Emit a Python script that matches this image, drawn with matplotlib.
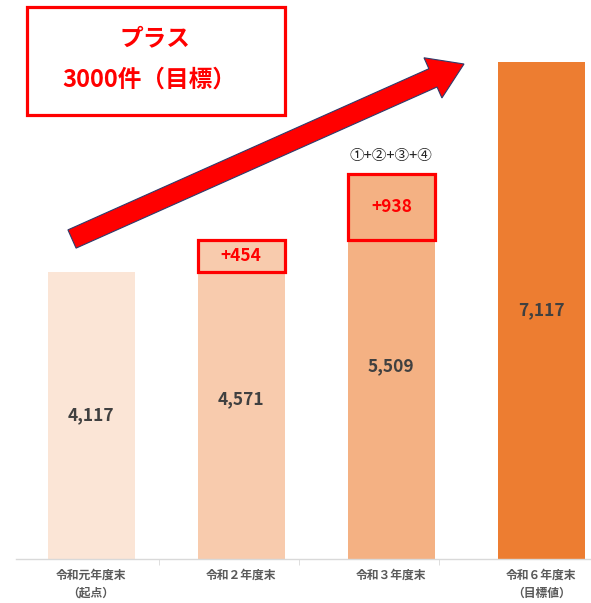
import matplotlib
matplotlib.use('Agg')
import matplotlib.pyplot as plt
from matplotlib.patches import Rectangle, FancyArrow
from matplotlib.transforms import IdentityTransform

plt.rcParams['font.family'] = ['Noto Sans CJK JP', 'DejaVu Sans']

# 件数の推移（年度末）
categories = ['令和元年度末\n（起点）', '令和２年度末', '令和３年度末', '令和６年度末\n（目標値）']
totals = [4117, 4571, 5509, 7117]
increments = [None, 454, 938, None]
bar_colors = ['#FBE5D6', '#F8CBAD', '#F4B183', '#ED7D31']

RED = '#FF0000'
W, H = 591, 603

fig = plt.figure(figsize=(W / 100, H / 100), dpi=100)
ax = fig.add_axes([16 / W, 44 / H, (W - 16) / W, 559 / H])

xs = list(range(len(categories)))
bar_w = 0.58
ax.bar(xs, totals, width=bar_w, color=bar_colors, zorder=2)

# 棒の中央に件数
for x, v in zip(xs, totals):
    ax.text(x, v / 2, f'{v:,}', ha='center', va='center', fontsize=12.5,
            fontweight='bold', color='#404040', zorder=4)

# 増加分の赤枠
for x, v, inc in zip(xs, totals, increments):
    if inc is None:
        continue
    ax.add_patch(Rectangle((x - bar_w / 2, v - inc), bar_w, inc, fill=False,
                           edgecolor=RED, linewidth=2.3, zorder=3))
    ax.text(x, v - inc / 2, f'+{inc:,}', ha='center', va='center', fontsize=12.5,
            fontweight='bold', color=RED, zorder=4)

ax.text(2, totals[2] + 170, '①+②+③+④', ha='center', va='bottom',
        fontsize=10.5, color='#222222')

ax.set_xlim(-0.5, 3.33)
ax.set_ylim(0, 8007)
ax.set_xticks(xs)
ax.set_xticklabels(categories, fontsize=8.5, fontweight='bold', color='#595959',
                   linespacing=1.5)
ax.set_xticks([0.45, 1.385, 2.32], minor=True)
ax.tick_params(axis='x', which='major', length=0, pad=7)
ax.tick_params(axis='x', which='minor', length=4, color='#D9D9D9')
ax.set_yticks([])
for s in ['top', 'right', 'left']:
    ax.spines[s].set_visible(False)
ax.spines['bottom'].set_color('#D9D9D9')
ax.spines['bottom'].set_linewidth(1)

# 右上がりの矢印（ピクセル座標）
arrow = FancyArrow(72, H - 239, 392, 175, width=20, head_width=44, head_length=34,
                   length_includes_head=True, facecolor=RED, edgecolor='#2F3B6B',
                   linewidth=0.8, transform=IdentityTransform(), zorder=5)
fig.patches.append(arrow)

# 目標の枠
box = Rectangle((27, H - 115), 258, 108, fill=True, facecolor='white',
                edgecolor=RED, linewidth=2.3, transform=IdentityTransform(), zorder=6)
fig.patches.append(box)
fig.text(155 / W, 1 - 38 / H, 'プラス', ha='center', va='center', fontsize=17,
         fontweight='bold', color=RED, zorder=7)
fig.text(149 / W, 1 - 80 / H, '3000件（目標）', ha='center', va='center', fontsize=17,
         fontweight='bold', color=RED, zorder=7)

fig.savefig('out.png', dpi=100)
